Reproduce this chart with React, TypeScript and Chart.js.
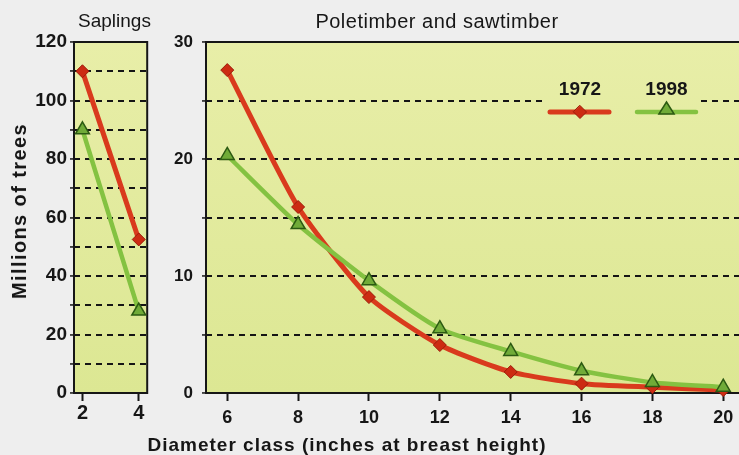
import React, { useEffect, useRef } from 'react';
import { Chart, registerables } from 'chart.js';

Chart.register(...registerables);

// ---------- data ----------
const seriesLabels = ['1972', '1998'];
const saplingClasses = [2, 4];
const sapling1972 = [110, 52.5];
const sapling1998 = [90, 28];
const timberClasses = [6, 8, 10, 12, 14, 16, 18, 20];
const timber1972 = [27.6, 15.9, 8.2, 4.1, 1.8, 0.8, 0.5, 0.25];
const timber1998 = [20.3, 14.4, 9.6, 5.5, 3.55, 1.9, 0.9, 0.5];
const saplingYTicks = [0, 20, 40, 60, 80, 100, 120];
const timberYTicks = [0, 10, 20, 30];

// ---------- styles ----------
const FONT = "'Liberation Sans', Arial, Helvetica, sans-serif";
const INK = '#161616';
const PAGE_BG = '#eeeeee';
const FILL_TOP = '#e8eea8';
const FILL_BOTTOM = '#dce793';
const RED_LINE = '#d93a1d';
const RED_POINT = '#cc2b12';
const RED_EDGE = '#9c1c0a';
const GREEN_LINE = '#84c241';
const GREEN_POINT = '#70ab38';
const GREEN_EDGE = '#2c5a12';

Chart.defaults.font.family = FONT;
Chart.defaults.color = INK;

const plotFill = (ctx: CanvasRenderingContext2D, top: number, bottom: number) => {
  const g = ctx.createLinearGradient(0, top, 0, bottom);
  g.addColorStop(0, FILL_TOP);
  g.addColorStop(1, FILL_BOTTOM);
  return g;
};

const framePlugin = (sides: { right: boolean }) => ({
  id: 'frame',
  beforeDraw(chart: any) {
    const { ctx, chartArea: a } = chart;
    ctx.save();
    ctx.fillStyle = plotFill(ctx, a.top, a.bottom);
    ctx.fillRect(a.left, a.top, a.right - a.left, a.bottom - a.top);
    ctx.restore();
  },
  beforeDatasetsDraw(chart: any) {
    const { ctx, chartArea: a } = chart;
    ctx.save();
    ctx.strokeStyle = INK;
    ctx.lineWidth = 2;
    ctx.beginPath();
    if (sides.right) {
      ctx.moveTo(a.right, a.top);
      ctx.lineTo(a.right, a.bottom);
    }
    ctx.moveTo(a.left, a.top);
    ctx.lineTo(a.right + 1, a.top);
    ctx.moveTo(a.left, a.top - 1);
    ctx.lineTo(a.left, a.bottom + 1);
    ctx.moveTo(a.left - 1, a.bottom);
    ctx.lineTo(a.right + 1, a.bottom);
    ctx.stroke();
    ctx.restore();
  },
});

const drawDiamond = (ctx: CanvasRenderingContext2D, x: number, y: number, r: number) => {
  ctx.beginPath();
  ctx.moveTo(x, y - r);
  ctx.lineTo(x + r, y);
  ctx.lineTo(x, y + r);
  ctx.lineTo(x - r, y);
  ctx.closePath();
};
const drawTriangle = (ctx: CanvasRenderingContext2D, x: number, y: number, r: number) => {
  ctx.beginPath();
  ctx.moveTo(x, y - r);
  ctx.lineTo(x + r * 0.95, y + r * 0.5);
  ctx.lineTo(x - r * 0.95, y + r * 0.5);
  ctx.closePath();
};

const legendPlugin = {
  id: 'customLegend',
  afterDatasetsDraw(chart: any) {
    const { ctx, chartArea: a } = chart;
    const ds = chart.data.datasets;
    ctx.save();
    ctx.fillStyle = plotFill(ctx, a.top, a.bottom);
    ctx.fillRect(382, 66, 158, 60);
    const items = [
      { cx: 420, x1: 390, x2: 449 },
      { cx: 506.5, x1: 477, x2: 536 },
    ];
    items.forEach((it, i) => {
      const d = ds[i];
      ctx.fillStyle = INK;
      ctx.font = `bold 19px ${FONT}`;
      ctx.textAlign = 'center';
      ctx.textBaseline = 'alphabetic';
      ctx.fillText(d.label, it.cx, 95);
      ctx.strokeStyle = d.borderColor;
      ctx.lineWidth = d.borderWidth;
      ctx.lineCap = 'round';
      ctx.beginPath();
      ctx.moveTo(it.x1, 112);
      ctx.lineTo(it.x2, 112);
      ctx.stroke();
      ctx.fillStyle = d.pointBackgroundColor;
      ctx.strokeStyle = d.pointBorderColor;
      ctx.lineWidth = d.pointBorderWidth;
      if (d.pointStyle === 'rectRot') drawDiamond(ctx, it.cx, 112, d.pointRadius);
      else drawTriangle(ctx, it.cx, 110, d.pointRadius);
      ctx.fill();
      ctx.stroke();
    });
    ctx.restore();
  },
};

const makeDatasets = (xs: number[], a: number[], b: number[]) => [
  {
    label: seriesLabels[0],
    data: xs.map((x, i) => ({ x, y: a[i] })),
    borderColor: RED_LINE,
    borderWidth: 5,
    pointStyle: 'rectRot',
    pointRadius: 6.5,
    pointBackgroundColor: RED_POINT,
    pointBorderColor: RED_EDGE,
    pointBorderWidth: 1,
    tension: 0.2,
    order: 1,
    clip: false,
  },
  {
    label: seriesLabels[1],
    data: xs.map((x, i) => ({ x, y: b[i] })),
    borderColor: GREEN_LINE,
    borderWidth: 4.5,
    pointStyle: 'triangle',
    pointRadius: 8,
    pointBackgroundColor: GREEN_POINT,
    pointBorderColor: GREEN_EDGE,
    pointBorderWidth: 1.5,
    tension: 0.2,
    order: 0,
    clip: false,
  },
];

const buildOptions = (cfg: {
  xMin: number; xMax: number; xTicks: number[]; xFont: number; xPad: number;
  yMax: number; yStep: number; yLabels: number[]; yFont: number; yPad: number;
  yWidth: number; padRight: number;
}) => ({
  responsive: false,
  animation: false,
  devicePixelRatio: 1,
  layout: { padding: { left: 0, top: 42, right: cfg.padRight, bottom: 0 } },
  plugins: { legend: { display: false }, tooltip: { enabled: false }, title: { display: false } },
  scales: {
    x: {
      type: 'linear',
      min: cfg.xMin,
      max: cfg.xMax,
      afterBuildTicks: (s: any) => { s.ticks = cfg.xTicks.map((v) => ({ value: v })); },
      afterFit: (s: any) => { s.height = 62; },
      border: { display: false },
      grid: { drawOnChartArea: false, drawTicks: true, tickLength: 8, tickColor: INK, tickWidth: 2 },
      ticks: { font: { size: cfg.xFont, weight: 'bold' }, color: INK, padding: cfg.xPad, maxRotation: 0, autoSkip: false },
    },
    y: {
      type: 'linear',
      min: 0,
      max: cfg.yMax,
      afterFit: (s: any) => { s.width = cfg.yWidth; },
      border: { display: false, dash: [6, 5] },
      grid: {
        color: (c: any) => (c.tick && (c.tick.value === 0 || c.tick.value === cfg.yMax) ? 'rgba(0,0,0,0)' : '#151515'),
        lineWidth: 1.9,
        tickColor: INK,
        tickWidth: 1.5,
        tickLength: 4,
        drawTicks: true,
      },
      ticks: {
        stepSize: cfg.yStep,
        font: { size: cfg.yFont, weight: 'bold' },
        color: INK,
        padding: cfg.yPad,
        autoSkip: false,
        callback: (v: any) => (cfg.yLabels.includes(Number(v)) ? String(v) : ''),
      },
    },
  },
});

export default function App() {
  const leftRef = useRef<HTMLCanvasElement>(null);
  const rightRef = useRef<HTMLCanvasElement>(null);

  useEffect(() => {
    const left = new Chart(leftRef.current as HTMLCanvasElement, {
      type: 'line',
      data: { datasets: makeDatasets(saplingClasses, sapling1972, sapling1998) as any },
      options: buildOptions({
        xMin: 1.7, xMax: 4.3, xTicks: saplingClasses, xFont: 20, xPad: 0,
        yMax: 120, yStep: 10, yLabels: saplingYTicks, yFont: 19, yPad: 3,
        yWidth: 74, padRight: 12.8,
      }) as any,
      plugins: [framePlugin({ right: true })],
    });
    const right = new Chart(rightRef.current as HTMLCanvasElement, {
      type: 'line',
      data: { datasets: makeDatasets(timberClasses, timber1972, timber1998) as any },
      options: buildOptions({
        xMin: 5.4, xMax: 20.6, xTicks: timberClasses, xFont: 18, xPad: 6,
        yMax: 30, yStep: 5, yLabels: timberYTicks, yFont: 17, yPad: 9,
        yWidth: 46, padRight: 35.5,
      }) as any,
      plugins: [framePlugin({ right: false }), legendPlugin],
    });
    return () => {
      left.destroy();
      right.destroy();
    };
  }, []);

  return (
    <div
      style={{
        position: 'fixed', left: 0, top: 0, width: 739, height: 455, overflow: 'hidden',
        background: PAGE_BG, fontFamily: FONT, color: INK,
      }}
    >
      <canvas ref={leftRef} width={160} height={455} style={{ position: 'absolute', left: 0, top: 0 }} />
      <canvas ref={rightRef} width={620} height={455} style={{ position: 'absolute', left: 160, top: 0 }} />
      <div style={{ position: 'absolute', left: 64, width: 101, top: 11, textAlign: 'center', fontSize: 19, lineHeight: '20px' }}>
        Saplings
      </div>
      <div style={{ position: 'absolute', left: 287, width: 300, top: 10, textAlign: 'center', fontSize: 20, lineHeight: '22px', letterSpacing: 0.5 }}>
        Poletimber and sawtimber
      </div>
      <div
        style={{
          position: 'absolute', left: 18.5, top: 210.5, transform: 'translate(-50%, -50%) rotate(-90deg)',
          whiteSpace: 'nowrap', fontSize: 20, fontWeight: 'bold', lineHeight: '20px', letterSpacing: 1.4,
        }}
      >
        Millions of trees
      </div>
      <div
        style={{
          position: 'absolute', left: 147, width: 400, top: 435, textAlign: 'center', whiteSpace: 'nowrap',
          fontSize: 19, fontWeight: 'bold', lineHeight: '20px', letterSpacing: 1,
        }}
      >
        Diameter class (inches at breast height)
      </div>
    </div>
  );
}
